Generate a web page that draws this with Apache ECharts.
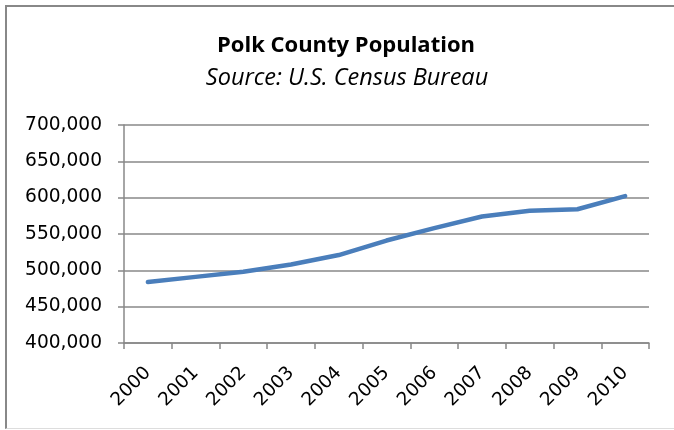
<!DOCTYPE html>
<html>
<head>
<meta charset="utf-8">
<script src="https://cdn.jsdelivr.net/npm/echarts@6/dist/echarts.min.js"></script>
<style>
  html, body { margin: 0; padding: 0; background: #fff; overflow: hidden; }
  #frame {
    position: absolute; left: 5px; top: 5px; width: 700px; height: 421px;
    border-top: 2px solid #888; border-left: 2px solid #888; border-bottom: 1px solid #ddd;
  }
  #chart { position: absolute; left: 0; top: 0; width: 674px; height: 430px; }
</style>
</head>
<body>
<div id="frame"></div>
<div id="chart"></div>
<script>
const years = ['2000', '2001', '2002', '2003', '2004', '2005', '2006', '2007', '2008', '2009', '2010']
const population = [483924, 491000, 498000, 508000, 521000, 541000, 558000, 574000, 582000, 584000, 602095]
const yTicks = [400000, 700000, 50000] // min, max, step

const chart = echarts.init(document.getElementById('chart'))

const option = {
  animation: false,
  title: [
    {
      text: 'Polk County Population',
      left: 341,
      top: 30,
      textAlign: 'center',
      textStyle: { fontFamily: 'Open Sans', fontWeight: 'bold', fontSize: 22, color: '#000' }
    },
    {
      text: 'Source: U.S. Census Bureau',
      left: 342,
      top: 62,
      textAlign: 'center',
      textStyle: { fontFamily: 'Open Sans', fontStyle: 'italic', fontWeight: 'normal', fontSize: 23.5, color: '#000' }
    }
  ],
  grid: { left: 124, right: 25, top: 125, bottom: 87, containLabel: false },
  xAxis: {
    type: 'category',
    data: years,
    boundaryGap: true,
    axisLine: { lineStyle: { color: '#888', width: 1.5 } },
    axisTick: { show: true, length: 6, lineStyle: { color: '#888', width: 1.5 } },
    axisLabel: {
      rotate: 45,
      margin: 27,
      color: '#000',
      fontFamily: 'DejaVu Sans',
      fontSize: 18.5
    },
    splitLine: { show: false }
  },
  yAxis: {
    type: 'value',
    min: yTicks[0],
    max: yTicks[1],
    interval: yTicks[2],
    axisLine: { show: true, lineStyle: { color: '#888', width: 1.5 } },
    axisTick: { show: true, length: 6, lineStyle: { color: '#888', width: 1.5 } },
    axisLabel: {
      margin: 22,
      color: '#000',
      fontFamily: 'DejaVu Sans',
      fontSize: 18.6,
      formatter: function (v) { return v.toLocaleString('en-US') }
    },
    splitLine: { lineStyle: { color: '#888', width: 1.5 } }
  },
  series: [
    {
      name: 'Population',
      type: 'line',
      data: population,
      symbol: 'none',
      lineStyle: { color: '#4a7ebb', width: 4.5, cap: 'round', join: 'round' }
    }
  ]
}

chart.setOption(option)
</script>
</body>
</html>
